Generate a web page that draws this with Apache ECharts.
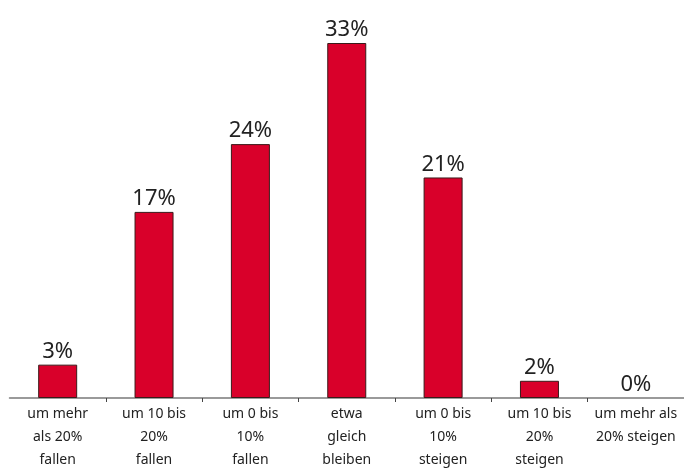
<!DOCTYPE html>
<html>
<head>
<meta charset="utf-8">
<script src="https://cdn.jsdelivr.net/npm/echarts@6/dist/echarts.min.js"></script>
<style>html,body{margin:0;padding:0;background:#fff}#c{width:684px;height:472px}</style>
</head>
<body>
<div id="c"></div>
<script>
const categories = [
  "um mehr\nals 20%\nfallen",
  "um 10 bis\n20%\nfallen",
  "um 0 bis\n10%\nfallen",
  "etwa\ngleich\nbleiben",
  "um 0 bis\n10%\nsteigen",
  "um 10 bis\n20%\nsteigen",
  "um mehr als\n20% steigen"
];
const values = [3.1, 17.3, 23.6, 33, 20.5, 1.6, 0];
const labels = ["3%", "17%", "24%", "33%", "21%", "2%", "0%"];

const chart = echarts.init(document.getElementById('c'), null, {renderer: 'canvas'});
chart.setOption({
  animation: false,
  backgroundColor: '#fff',
  grid: {left: 9.5, right: 0, top: 43, bottom: 73.5, containLabel: false},
  xAxis: {
    type: 'category',
    data: categories,
    axisLine: {lineStyle: {color: '#7a7a7a', width: 1.5}},
    axisTick: {show: true, inside: false, length: 4, interval: (i) => i > 0, lineStyle: {color: '#444'}},
    axisLabel: {
      fontFamily: 'Noto Sans', fontSize: 14, color: '#222',
      lineHeight: 23, margin: 5, interval: 0
    }
  },
  yAxis: {
    type: 'value', min: 0, max: 33,
    show: false, splitLine: {show: false}
  },
  series: [{
    type: 'bar',
    data: values.map(v => v === 0 ? {value: v, itemStyle: {borderWidth: 0}} : v),
    barWidth: 39,
    itemStyle: {color: '#d9002a', borderColor: '#3a1a1a', borderWidth: 1},
    label: {
      show: true, position: 'top', distance: 2,
      fontFamily: 'Noto Sans', fontSize: 22, color: '#222',
      formatter: p => labels[p.dataIndex]
    }
  }]
});
</script>
</body>
</html>
